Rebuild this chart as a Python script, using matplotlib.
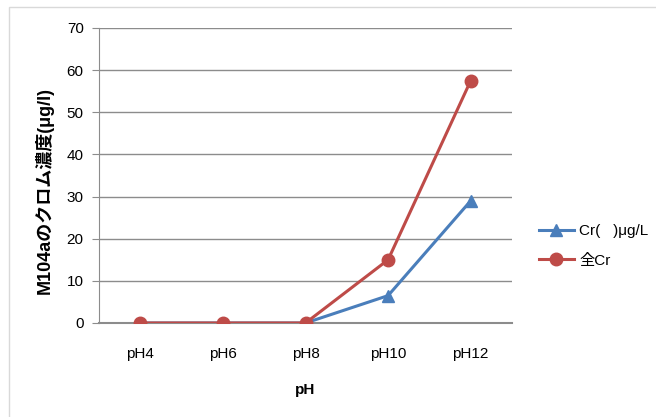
import matplotlib.pyplot as plt
from matplotlib.patches import Rectangle

plt.rcParams['font.family'] = ['Liberation Sans', 'Noto Sans CJK JP', 'DejaVu Sans']

# data
categories = ['pH4', 'pH6', 'pH8', 'pH10', 'pH12']
cr6 = [0, 0, 0, 6.5, 29]
total_cr = [0, 0, 0, 15, 57.5]
series_names = ['Cr(   )μg/L', '全Cr']

fig = plt.figure(figsize=(6.56, 4.17), dpi=100)

# outer chart border
fig.patches.append(Rectangle((9 / 656, -0.1), 1.0, 1 - 7 / 417 + 0.1,
                             transform=fig.transFigure, fill=False,
                             edgecolor='#d9d9d9', linewidth=1))

ax = fig.add_axes([99 / 656, 1 - 323 / 417, 413 / 656, 295 / 417])

x = range(len(categories))
ax.plot(x, cr6, color='#4A7EBB', linewidth=2.2, marker='^', markersize=8,
        label=series_names[0], zorder=3)
ax.plot(x, total_cr, color='#BE4B48', linewidth=2.2, marker='o', markersize=9,
        label=series_names[1], zorder=4)

ax.set_xlim(-0.5, 4.5)
ax.set_ylim(0, 70)
ax.set_yticks(range(0, 71, 10))
ax.set_xticks(list(x))
ax.set_xticklabels(categories)

ax.grid(axis='y', color='#8c8c8c', linewidth=1)
ax.set_axisbelow(True)
for s in ['top', 'right']:
    ax.spines[s].set_visible(False)
ax.spines['left'].set_color('#8c8c8c')
ax.spines['bottom'].set_color('#8c8c8c')
ax.spines['bottom'].set_linewidth(1.5)
ax.tick_params(axis='y', length=5, color='#8c8c8c', labelsize=11, pad=6)
ax.tick_params(axis='x', length=0, labelsize=11, pad=17)

ax.set_ylabel('M104aのクロム濃度(μg/l)', fontsize=13, fontweight='bold')
ax.yaxis.set_label_coords(-0.11, 0.45)
ax.set_xlabel('pH', fontsize=11, fontweight='bold', labelpad=16)

ax.legend(loc='center left', bbox_to_anchor=(525 / 656, 1 - 246 / 417),
          bbox_transform=fig.transFigure, frameon=False, fontsize=11,
          handlelength=2.3, handletextpad=0.35, labelspacing=1.0)

fig.savefig('out.png', dpi=100)
